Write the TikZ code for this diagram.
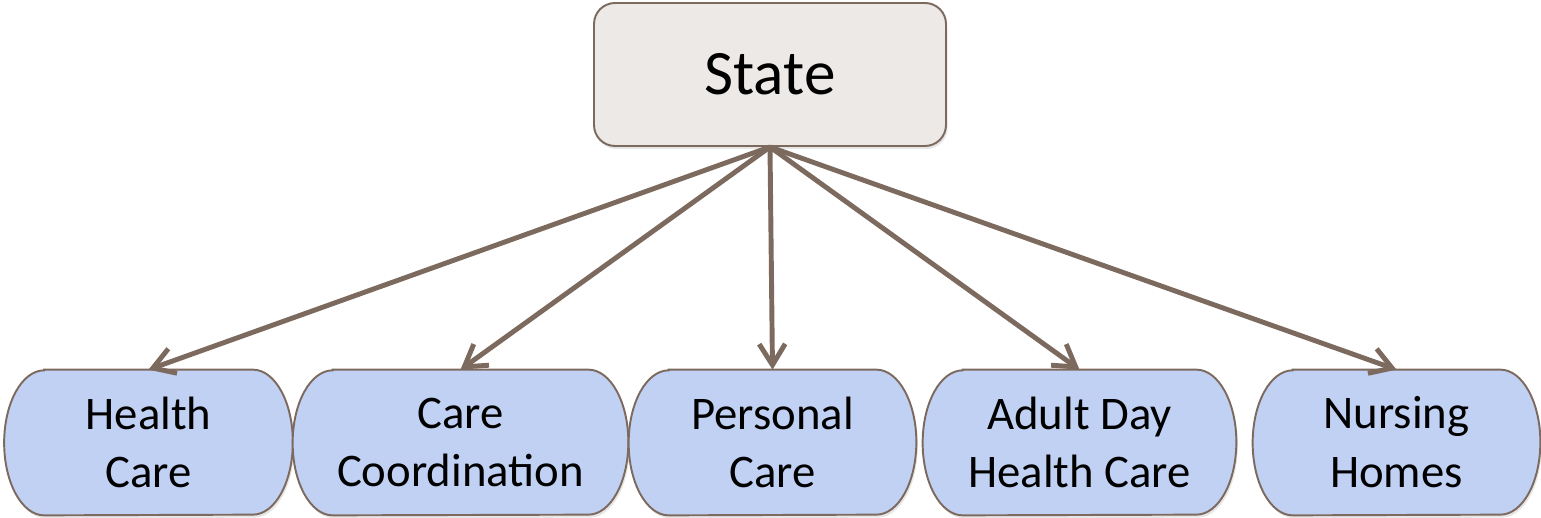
\documentclass[tikz,border=0pt]{standalone}
\usepackage{fontspec}
\setmainfont{Carlito}
\usetikzlibrary{arrows.meta,shadows,backgrounds}

\definecolor{linebrown}{HTML}{7D6A5F}
\definecolor{stategray}{HTML}{EDE9E6}
\definecolor{careblue}{HTML}{C1D1F3}

\tikzstyle{arrow} = [line width=2.8pt, -{Straight Barb[length=0.42cm,width=0.52cm,line width=2.8pt]}, linebrown]
\tikzstyle{softshadow} = [drop shadow={opacity=0.2, shadow xshift=0.03cm, shadow yshift=-0.06cm}]
\tikzstyle{top} = [draw=linebrown, line width=1.1pt, fill=stategray, rounded corners=0.42cm,
  minimum width=7.04cm, minimum height=2.86cm, font=\fontsize{36}{43}\selectfont, softshadow]
\tikzstyle{service} = [minimum height=2.9cm, inner sep=0pt, align=center,
  font=\fontsize{26.6}{33.5}\selectfont]
\tikzstyle{pill} = [draw=linebrown, line width=1.1pt, fill=careblue, softshadow]

\begin{document}
\begin{tikzpicture}
			\useasboundingbox (0,0) rectangle (30.82,10.36);
			 \node[top] (state) at (15.4,8.87) {State};
			 \node[service, minimum width=5.76cm] (health) at (2.97,1.51) {Health\\Care};
			 \node[service, minimum width=6.70cm] (coord) at (9.21,1.51) {Care\\Coordination};
			 \node[service, minimum width=5.74cm] (personal) at (15.45,1.51) {Personal\\Care};
			 \node[service, minimum width=6.26cm] (adult) at (21.59,1.51) {Adult Day\\Health Care};
			 \node[service, minimum width=5.74cm] (nursing) at (27.93,1.51) {Nursing\\Homes};
			 % box outlines with elliptic ends, behind the texts
			 \begin{scope}[on background layer]
			 \foreach \n in {health,coord,personal,adult,nursing} {
			 \draw[pill] ([xshift=0.8cm]\n.north west) -- ([xshift=-0.8cm]\n.north east)
			   arc[start angle=90, end angle=-90, x radius=0.8cm, y radius=1.45cm]
			   -- ([xshift=0.8cm]\n.south west)
			   arc[start angle=270, end angle=90, x radius=0.8cm, y radius=1.45cm] -- cycle;
			 }
			 \end{scope}
			 \foreach \n in {health,coord,personal,adult,nursing} {
			 \draw[arrow] (state.south) -- (\n.north);
			 }
			\end{tikzpicture}
\end{document}
